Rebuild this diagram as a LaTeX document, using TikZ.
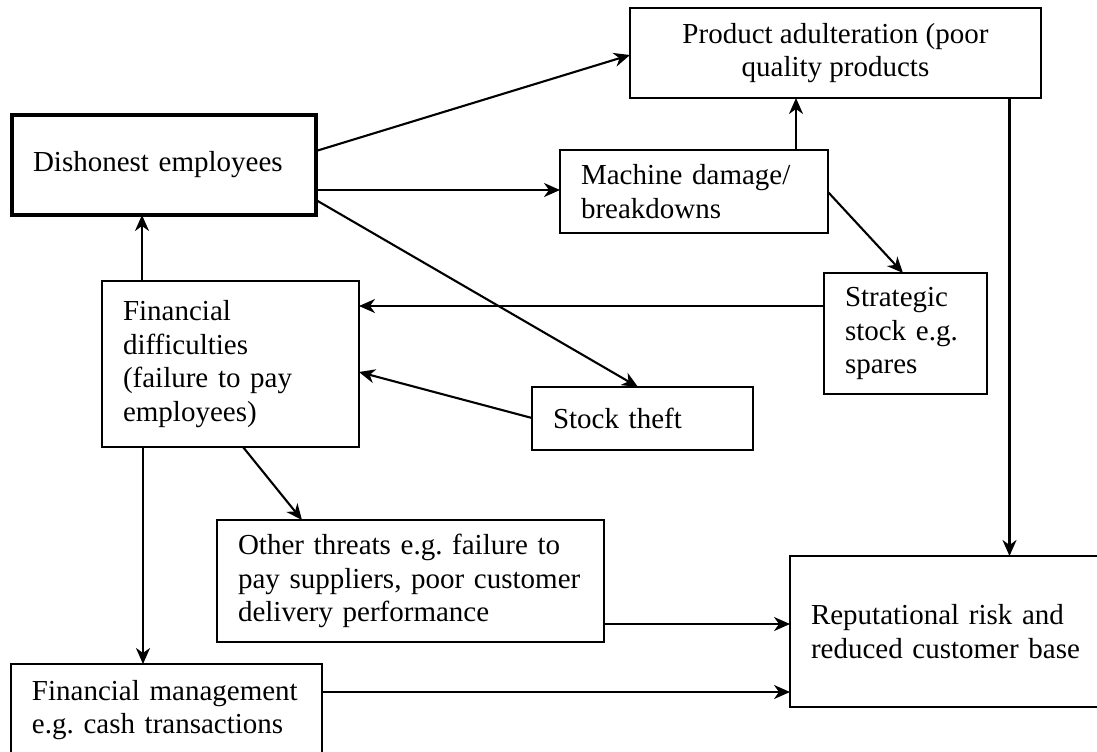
\documentclass[tikz,border=0pt]{standalone}
\usepackage{fontspec}
\setmainfont{Liberation Serif}
\usetikzlibrary{arrows.meta}
\frenchspacing
\tikzset{
  box/.style={draw, line width=1.2pt, outer sep=0pt, inner xsep=10.5pt, inner ysep=0pt, align=left,
    font=\frenchspacing\fontsize{14.5}{16.75}\selectfont},
  thickbox/.style={box, line width=2.3pt},
  conn/.style={line width=1.05pt, -{Stealth[length=8pt,width=7pt,inset=2.5pt]}},
}
\begin{document}
\begin{tikzpicture}[x=0.5pt,y=-0.5pt]
\useasboundingbox (0,0) rectangle (1097,751);
\clip (0,0) rectangle (1097,751);
\fill[white] (0,0) rectangle (1097,751);

\node[box, align=center, minimum width=205.5pt, minimum height=45pt] (prod) at (835.5,53)
  {Product adulteration (poor\\quality products};
\node[thickbox, text width=131pt, minimum height=50pt] (dish) at (164,165)
  {Dishonest employees};
\node[box, text width=113pt, minimum height=41.5pt] (mach) at (694,191.5)
  {Machine damage/\\breakdowns};
\node[box, text width=60.5pt, minimum height=60.5pt] (strat) at (905.5,333.5)
  {Strategic\\stock e.g.\\spares};
\node[box, text width=107.5pt, minimum height=83pt] (fin) at (230.5,364)
  {Financial\\difficulties\\(failure to pay\\employees)};
\node[box, text width=89.5pt, minimum height=31.5pt] (theft) at (642.5,418.5)
  {Stock theft};
\node[box, text width=172.5pt, minimum height=61pt] (other) at (410.5,581)
  {Other threats e.g. failure to\\pay suppliers, poor customer\\delivery performance};
\node[box, text width=139pt, minimum height=75.5pt] (rep) at (950,631.5)
  {Reputational risk and\\reduced customer base};
\node[box, text width=134.5pt, minimum height=46pt] (fmgmt) at (166.5,710)
  {Financial management\\e.g. cash transactions};

\draw[conn] (dish.east |- 0,151) -- (prod.west |- 0,55);
\draw[conn] (dish.east |- 0,190) -- (mach.west |- 0,190);
\draw[conn] (dish.east |- 0,200) -- (theft.north -| 638,0);
\draw[conn] (mach.north -| 796,0) -- (prod.south -| 796,0);
\draw[conn] (mach.east |- 0,192) -- (strat.north -| 903,0);
\draw[conn] (prod.south -| 1009.5,0) -- (rep.north -| 1009.5,0);
\draw[conn] (strat.west |- 0,306) -- (fin.east |- 0,306);
\draw[conn] (theft.west |- 0,418) -- (fin.east |- 0,372);
\draw[conn] (fin.north -| 142,0) -- (dish.south -| 142,0);
\draw[conn] (fin.south -| 143,0) -- (fmgmt.north -| 143,0);
\draw[conn] (fin.south -| 243,0) -- (other.north -| 302,0);
\draw[conn] (other.east |- 0,624) -- (rep.west |- 0,624);
\draw[conn] (fmgmt.east |- 0,692) -- (rep.west |- 0,692);
\end{tikzpicture}
\end{document}
